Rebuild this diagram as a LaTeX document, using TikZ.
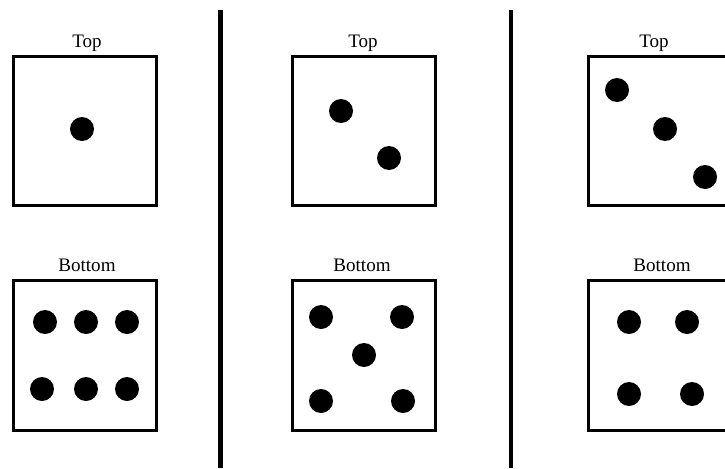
\documentclass[tikz,border=0pt]{standalone}
\usepackage{fontspec}
\setmainfont{Liberation Serif}
\usetikzlibrary{positioning}

\begin{document}
\begin{tikzpicture}[x=0.75pt,y=-0.75pt,
  face/.style={draw,line width=2.2pt,minimum width=107pt,minimum height=112pt,inner sep=0pt},
  pip/.style={circle,fill,inner sep=0pt,minimum size=18pt},
  lbl/.style={anchor=base,font=\fontsize{14.3pt}{17pt}\selectfont},
  bar/.style={line width=3.4pt}]
\useasboundingbox (0,0) rectangle (725,468);
\clip (0,0) rectangle (725,468);
% faces
\node[face] (t1) at (85,131) {};\node[face] (b1) at (85,355.5) {};
\node[face] (t2) at (364,131) {};\node[face] (b2) at (364,355.5) {};
\node[face] (t3) at (660,131) {};\node[face] (b3) at (660,355.5) {};
% labels
\node[lbl] (lt1) at (87,47) {Top};\node[lbl] (lb1) at (87,271) {Bottom};
\node[lbl] (lt2) at (363,47) {Top};\node[lbl] (lb2) at (362,271) {Bottom};
\node[lbl] (lt3) at (654,47) {Top};\node[lbl] (lb3) at (662,271) {Bottom};
% pips
\foreach \x/\y [count=\i] in {82/129,
  45/322,86/322,127/322,42/389,86/389,127/389,
  341/111,389/158,
  321/317,402/317,364/355,321/401,403/401,
  617/90,665/129,705/177,
  629/322,687/322,629/394,692/394}
  \node[pip] (p\i) at (\x,\y) {};
% separators
\coordinate (s1) at (220.5,10);\coordinate (s2) at (511,10);
\draw[bar] (s1)--(220.5,468);\draw[bar] (s2)--(511,468);
\end{tikzpicture}
\end{document}
